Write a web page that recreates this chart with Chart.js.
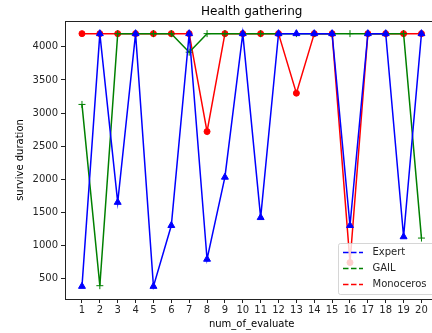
<!DOCTYPE html>
<html>
<head>
<meta charset="utf-8">
<script src="https://cdn.jsdelivr.net/npm/chart.js@4/dist/chart.umd.min.js"></script>
<style>
  html, body { margin: 0; padding: 0; background: #fff; overflow: hidden; }
  #wrap { width: 432px; height: 333px; overflow: hidden; }
</style>
</head>
<body>
<div id="wrap"><canvas id="chart" width="432" height="333"></canvas></div>
<script>
const evals = [1, 2, 3, 4, 5, 6, 7, 8, 9, 10, 11, 12, 13, 14, 15, 16, 17, 18, 19, 20];
const expert = [380, 4200, 1650, 4200, 380, 1300, 4200, 790, 2030, 4200, 1420, 4200, 4200, 4200, 4200, 1300, 4200, 4200, 1130, 4200];
const gail = [3130, 390, 4200, 4200, 4200, 4200, 3920, 4200, 4200, 4200, 4200, 4200, 4200, 4200, 4200, 4200, 4200, 4200, 4200, 1110];
const monoceros = [4200, 4200, 4200, 4200, 4200, 4200, 4200, 2720, 4200, 4200, 4200, 4200, 3300, 4200, 4200, 740, 4200, 4200, 4200, 4200];
const yTicks = [500, 1000, 1500, 2000, 2500, 3000, 3500, 4000];

const font = 'DejaVu Sans';
const toPoints = arr => arr.map((v, i) => ({ x: evals[i], y: v }));

// the matplotlib axes run past the right edge, so the title and x label
// are centred on the full x range (0.05 .. 20.95), not on what is visible
const frame = {
  id: 'frame',
  afterDatasetsDraw(chart) {
    const { ctx, chartArea: a } = chart;
    ctx.save();
    ctx.strokeStyle = '#222';
    ctx.lineWidth = 1;
    ctx.strokeRect(Math.round(a.left) + 0.5, Math.round(a.top) + 0.5, Math.round(a.right - a.left) + 20, Math.round(a.bottom - a.top));
    ctx.restore();
  },
  afterDraw(chart) {
    const ctx = chart.ctx;
    const cx = chart.scales.x.getPixelForValue(10.5);
    ctx.save();
    ctx.textAlign = 'center';
    ctx.textBaseline = 'middle';
    ctx.fillStyle = '#000';
    ctx.font = '12px "' + font + '"';
    ctx.fillText('Health gathering', cx, 11.5);
    ctx.font = '10px "' + font + '"';
    ctx.fillText('num_of_evaluate', cx, 324.5);

    const x = 338, y = 243, w = 100, h = 51;
    ctx.fillStyle = 'rgba(255,255,255,0.8)';
    ctx.strokeStyle = 'rgba(204,204,204,0.8)';
    ctx.lineWidth = 1;
    ctx.beginPath();
    ctx.roundRect(x + 0.5, y + 0.5, w, h, 2);
    ctx.fill();
    ctx.stroke();
    ctx.textAlign = 'left';
    chart.data.datasets.forEach((ds, i) => {
      const ly = y + 9.5 + i * 16;
      ctx.strokeStyle = ds.borderColor;
      ctx.lineWidth = 1.5;
      ctx.setLineDash([5.5, 2.5]);
      ctx.beginPath();
      ctx.moveTo(x + 5, ly);
      ctx.lineTo(x + 25, ly);
      ctx.stroke();
      ctx.setLineDash([]);
      ctx.fillStyle = '#262626';
      ctx.fillText(ds.label, x + 34.5, ly);
    });
    ctx.restore();
  }
};

new Chart(document.getElementById('chart').getContext('2d'), {
  type: 'line',
  data: {
    datasets: [
      {
        label: 'Expert',
        data: toPoints(expert),
        borderColor: '#0000ff',
        backgroundColor: '#0000ff',
        pointStyle: 'triangle',
        pointRadius: 4,
        pointBorderWidth: 1
      },
      {
        label: 'GAIL',
        data: toPoints(gail),
        borderColor: '#008000',
        backgroundColor: '#008000',
        pointStyle: 'cross',
        pointRadius: 3.5,
        pointBorderWidth: 1
      },
      {
        label: 'Monoceros',
        data: toPoints(monoceros),
        borderColor: '#ff0000',
        backgroundColor: '#ff0000',
        pointStyle: 'circle',
        pointRadius: 3,
        pointBorderWidth: 1
      }
    ]
  },
  options: {
    responsive: false,
    animation: false,
    events: [],
    layout: { padding: { left: 0, right: 0, top: 21, bottom: 0 } },
    elements: { line: { borderWidth: 1.5, tension: 0 } },
    plugins: {
      legend: { display: false },
      tooltip: { enabled: false },
      title: { display: false }
    },
    scales: {
      x: {
        type: 'linear',
        min: 0.05,
        max: 20.31,
        afterBuildTicks: s => { s.ticks = evals.map(v => ({ value: v })); },
        afterFit: s => { s.height = 34; s.paddingLeft = 0; s.paddingRight = 0; },
        ticks: { color: '#262626', font: { family: font, size: 10 }, padding: 1, maxRotation: 0, autoSkip: false, callback: v => String(v) },
        grid: { display: true, drawOnChartArea: false, drawTicks: true, tickLength: 4, color: '#222' },
        border: { display: true, color: '#222' }
      },
      y: {
        min: 189,
        max: 4391,
        afterBuildTicks: s => { s.ticks = yTicks.map(v => ({ value: v })); },
        afterFit: s => { s.width = 65; s.paddingTop = 0; s.paddingBottom = 0; },
        ticks: { color: '#262626', font: { family: font, size: 10 }, padding: 3, callback: v => String(v) },
        grid: { display: true, drawOnChartArea: false, drawTicks: true, tickLength: 4, color: '#222' },
        border: { display: true, color: '#222' },
        title: { display: true, text: 'survive duration', color: '#000', font: { family: font, size: 10 }, padding: { top: 14, bottom: 0 } }
      }
    }
  },
  plugins: [frame]
});
</script>
</body>
</html>
